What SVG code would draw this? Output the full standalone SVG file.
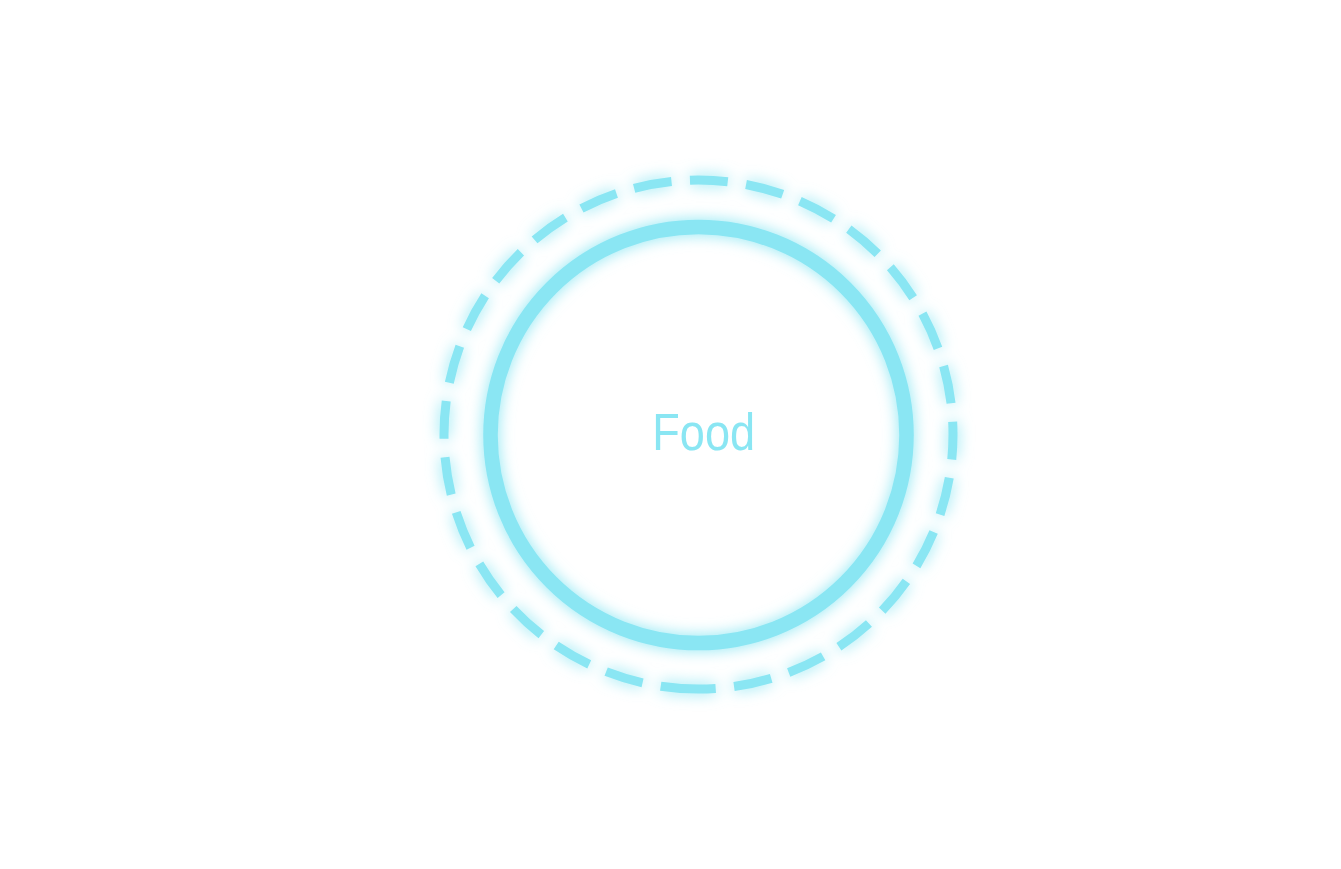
<svg xmlns="http://www.w3.org/2000/svg" width="1341" height="869" viewBox="0 0 1341 869">
  <defs>
    <filter id="glow" x="-20%" y="-20%" width="140%" height="140%">
      <feGaussianBlur in="SourceGraphic" stdDeviation="7.5" result="b"/>
      <feMerge>
        <feMergeNode in="b"/>
        <feMergeNode in="SourceGraphic"/>
      </feMerge>
    </filter>
  </defs>
  <style>
    .ring { fill: none; stroke: #8ae6f3; }
    .solid { stroke-width: 14.5; }
    .dashed { stroke-width: 9; stroke-dasharray: 38 18.47; }
    .label { fill: #8ae6f3; font-family: "Liberation Sans", Arial, sans-serif; font-size: 52px; }
  </style>
  <rect width="1341" height="869" fill="#ffffff"/>
  <g id="node-food">
    <g filter="url(#glow)">
      <circle class="ring dashed" cx="698.5" cy="434.5" r="254.5" transform="rotate(90 698.5 434.5)"/>
      <circle class="ring solid" cx="698.5" cy="435" r="208"/>
    </g>
    <text class="label" x="652.3" y="450" textLength="102.8" lengthAdjust="spacingAndGlyphs">Food</text>
  </g>
</svg>
